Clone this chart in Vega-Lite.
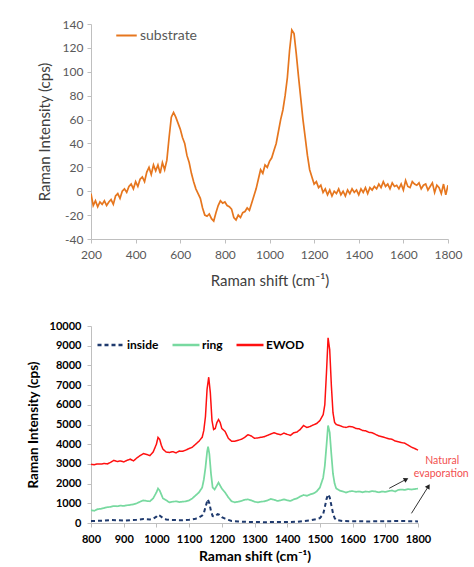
{
  "$schema": "https://vega.github.io/schema/vega-lite/v6.json",
  "padding": {"left": 26, "top": 18, "right": 0, "bottom": 0},
  "background": "white",
  "spacing": 32,
  "resolve": {"scale": {"x": "independent", "y": "independent", "color": "independent", "strokeDash": "independent"}, "axis": {"x": "independent", "y": "independent"}, "legend": {"color": "independent", "strokeDash": "independent"}},
  "config": {
    "font": "Lato",
    "view": {"stroke": null},
    "axis": {"grid": false, "domainColor": "#BFBFBF", "tickColor": "#BFBFBF", "tickSize": 4, "labelOverlap": false, "labelFlush": false}
  },
  "datasets": {
    "sub": [
      {"x":200,"y":-2},{"x":210,"y":-12},{"x":220,"y":-8},{"x":230,"y":-13},{"x":240,"y":-9},{"x":250,"y":-11},{"x":260,"y":-8},{"x":270,"y":-12},{"x":280,"y":-9},{"x":290,"y":-7},
      {"x":300,"y":-11},{"x":310,"y":-4},{"x":320,"y":-2},{"x":330,"y":-6},{"x":340,"y":0},{"x":350,"y":2},{"x":360,"y":-1},{"x":370,"y":4},{"x":380,"y":6},{"x":390,"y":2},
      {"x":400,"y":8},{"x":410,"y":4},{"x":420,"y":10},{"x":430,"y":12},{"x":440,"y":8},{"x":450,"y":16},{"x":460,"y":20},{"x":470,"y":14},{"x":480,"y":22},{"x":490,"y":17},
      {"x":500,"y":22},{"x":510,"y":15},{"x":520,"y":24},{"x":530,"y":18},{"x":540,"y":26},{"x":550,"y":45},{"x":560,"y":62},{"x":570,"y":66},{"x":580,"y":62},{"x":590,"y":57},
      {"x":600,"y":52},{"x":610,"y":45},{"x":620,"y":40},{"x":630,"y":30},{"x":640,"y":24},{"x":650,"y":15},{"x":660,"y":8},{"x":670,"y":2},{"x":680,"y":-2},{"x":690,"y":-6},
      {"x":700,"y":-14},{"x":710,"y":-20},{"x":720,"y":-21},{"x":730,"y":-19},{"x":740,"y":-23},{"x":750,"y":-25},{"x":760,"y":-18},{"x":770,"y":-12},{"x":780,"y":-8},{"x":790,"y":-10},
      {"x":800,"y":-9},{"x":810,"y":-12},{"x":820,"y":-13},{"x":830,"y":-15},{"x":840,"y":-22},{"x":850,"y":-24},{"x":860,"y":-20},{"x":870,"y":-22},{"x":880,"y":-18},{"x":890,"y":-17},
      {"x":900,"y":-14},{"x":910,"y":-16},{"x":920,"y":-10},{"x":930,"y":-4},{"x":940,"y":2},{"x":950,"y":10},{"x":960,"y":18},{"x":970,"y":15},{"x":980,"y":22},{"x":990,"y":20},
      {"x":1000,"y":25},{"x":1010,"y":28},{"x":1020,"y":34},{"x":1030,"y":40},{"x":1040,"y":50},{"x":1050,"y":60},{"x":1060,"y":68},{"x":1070,"y":80},{"x":1080,"y":95},{"x":1090,"y":118},
      {"x":1100,"y":135},{"x":1110,"y":132},{"x":1120,"y":115},{"x":1130,"y":96},{"x":1140,"y":78},{"x":1150,"y":60},{"x":1160,"y":45},{"x":1170,"y":30},{"x":1180,"y":18},{"x":1190,"y":12},
      {"x":1200,"y":6},{"x":1210,"y":8},{"x":1220,"y":3},{"x":1230,"y":5},{"x":1240,"y":-1},{"x":1250,"y":2},{"x":1260,"y":-3},{"x":1270,"y":1},{"x":1280,"y":-4},{"x":1290,"y":0},
      {"x":1300,"y":-2},{"x":1310,"y":2},{"x":1320,"y":-3},{"x":1330,"y":0},{"x":1340,"y":-4},{"x":1350,"y":1},{"x":1360,"y":-2},{"x":1370,"y":2},{"x":1380,"y":-1},{"x":1390,"y":1},
      {"x":1400,"y":-3},{"x":1410,"y":2},{"x":1420,"y":-1},{"x":1430,"y":3},{"x":1440,"y":-2},{"x":1450,"y":3},{"x":1460,"y":1},{"x":1470,"y":4},{"x":1480,"y":2},{"x":1490,"y":6},
      {"x":1500,"y":3},{"x":1510,"y":8},{"x":1520,"y":4},{"x":1530,"y":6},{"x":1540,"y":2},{"x":1550,"y":7},{"x":1560,"y":4},{"x":1570,"y":5},{"x":1580,"y":2},{"x":1590,"y":6},
      {"x":1600,"y":1},{"x":1610,"y":9},{"x":1620,"y":4},{"x":1630,"y":3},{"x":1640,"y":8},{"x":1650,"y":6},{"x":1660,"y":5},{"x":1670,"y":7},{"x":1680,"y":2},{"x":1690,"y":5},
      {"x":1700,"y":6},{"x":1710,"y":1},{"x":1720,"y":4},{"x":1730,"y":7},{"x":1740,"y":-1},{"x":1750,"y":5},{"x":1760,"y":3},{"x":1770,"y":-2},{"x":1780,"y":6},{"x":1790,"y":-3},{"x":1800,"y":5}
    ],
    "spectra": [
      {"s":"EWOD","x":800,"y":2980},{"s":"EWOD","x":810,"y":2960},{"s":"EWOD","x":820,"y":3000},{"s":"EWOD","x":830,"y":2990},{"s":"EWOD","x":840,"y":3020},{"s":"EWOD","x":850,"y":3000},{"s":"EWOD","x":860,"y":3080},{"s":"EWOD","x":870,"y":3180},{"s":"EWOD","x":880,"y":3120},{"s":"EWOD","x":890,"y":3150},
      {"s":"EWOD","x":900,"y":3100},{"s":"EWOD","x":910,"y":3180},{"s":"EWOD","x":920,"y":3240},{"s":"EWOD","x":930,"y":3150},{"s":"EWOD","x":940,"y":3300},{"s":"EWOD","x":950,"y":3420},{"s":"EWOD","x":960,"y":3520},{"s":"EWOD","x":970,"y":3480},{"s":"EWOD","x":980,"y":3420},{"s":"EWOD","x":990,"y":3600},
      {"s":"EWOD","x":1000,"y":4000},{"s":"EWOD","x":1005,"y":4350},{"s":"EWOD","x":1010,"y":4250},{"s":"EWOD","x":1015,"y":3950},{"s":"EWOD","x":1020,"y":3750},{"s":"EWOD","x":1030,"y":3600},{"s":"EWOD","x":1040,"y":3580},{"s":"EWOD","x":1050,"y":3620},{"s":"EWOD","x":1060,"y":3560},{"s":"EWOD","x":1070,"y":3650},
      {"s":"EWOD","x":1080,"y":3640},{"s":"EWOD","x":1090,"y":3700},{"s":"EWOD","x":1100,"y":3780},{"s":"EWOD","x":1110,"y":3850},{"s":"EWOD","x":1120,"y":4000},{"s":"EWOD","x":1130,"y":4150},{"s":"EWOD","x":1140,"y":4350},{"s":"EWOD","x":1145,"y":4700},{"s":"EWOD","x":1150,"y":5400},{"s":"EWOD","x":1155,"y":6800},
      {"s":"EWOD","x":1160,"y":7400},{"s":"EWOD","x":1165,"y":6600},{"s":"EWOD","x":1170,"y":5200},{"s":"EWOD","x":1175,"y":4750},{"s":"EWOD","x":1180,"y":4800},{"s":"EWOD","x":1185,"y":5100},{"s":"EWOD","x":1190,"y":5250},{"s":"EWOD","x":1195,"y":5100},{"s":"EWOD","x":1200,"y":4800},{"s":"EWOD","x":1210,"y":4650},
      {"s":"EWOD","x":1220,"y":4300},{"s":"EWOD","x":1230,"y":4150},{"s":"EWOD","x":1240,"y":4150},{"s":"EWOD","x":1250,"y":4200},{"s":"EWOD","x":1260,"y":4250},{"s":"EWOD","x":1270,"y":4350},{"s":"EWOD","x":1280,"y":4480},{"s":"EWOD","x":1290,"y":4420},{"s":"EWOD","x":1300,"y":4300},{"s":"EWOD","x":1310,"y":4320},
      {"s":"EWOD","x":1320,"y":4350},{"s":"EWOD","x":1330,"y":4380},{"s":"EWOD","x":1340,"y":4450},{"s":"EWOD","x":1350,"y":4520},{"s":"EWOD","x":1360,"y":4580},{"s":"EWOD","x":1370,"y":4520},{"s":"EWOD","x":1380,"y":4480},{"s":"EWOD","x":1390,"y":4560},{"s":"EWOD","x":1400,"y":4500},{"s":"EWOD","x":1410,"y":4450},
      {"s":"EWOD","x":1420,"y":4580},{"s":"EWOD","x":1430,"y":4620},{"s":"EWOD","x":1440,"y":4750},{"s":"EWOD","x":1450,"y":4950},{"s":"EWOD","x":1460,"y":4850},{"s":"EWOD","x":1470,"y":4900},{"s":"EWOD","x":1480,"y":4980},{"s":"EWOD","x":1490,"y":5050},{"s":"EWOD","x":1500,"y":5200},{"s":"EWOD","x":1510,"y":5500},
      {"s":"EWOD","x":1515,"y":6000},{"s":"EWOD","x":1520,"y":7600},{"s":"EWOD","x":1525,"y":9400},{"s":"EWOD","x":1530,"y":8800},{"s":"EWOD","x":1535,"y":7000},{"s":"EWOD","x":1540,"y":5600},{"s":"EWOD","x":1545,"y":5100},{"s":"EWOD","x":1550,"y":5000},{"s":"EWOD","x":1560,"y":4950},{"s":"EWOD","x":1570,"y":4880},
      {"s":"EWOD","x":1580,"y":4850},{"s":"EWOD","x":1590,"y":4900},{"s":"EWOD","x":1600,"y":4880},{"s":"EWOD","x":1610,"y":4800},{"s":"EWOD","x":1620,"y":4780},{"s":"EWOD","x":1630,"y":4700},{"s":"EWOD","x":1640,"y":4680},{"s":"EWOD","x":1650,"y":4600},{"s":"EWOD","x":1660,"y":4580},{"s":"EWOD","x":1670,"y":4500},
      {"s":"EWOD","x":1680,"y":4420},{"s":"EWOD","x":1690,"y":4380},{"s":"EWOD","x":1700,"y":4330},{"s":"EWOD","x":1710,"y":4280},{"s":"EWOD","x":1720,"y":4250},{"s":"EWOD","x":1730,"y":4160},{"s":"EWOD","x":1740,"y":4120},{"s":"EWOD","x":1750,"y":4080},{"s":"EWOD","x":1760,"y":4050},{"s":"EWOD","x":1770,"y":3950},
      {"s":"EWOD","x":1780,"y":3850},{"s":"EWOD","x":1790,"y":3780},{"s":"EWOD","x":1800,"y":3700},
      {"s":"ring","x":800,"y":650},{"s":"ring","x":810,"y":620},{"s":"ring","x":820,"y":700},{"s":"ring","x":830,"y":720},{"s":"ring","x":840,"y":760},{"s":"ring","x":850,"y":800},{"s":"ring","x":860,"y":820},{"s":"ring","x":870,"y":860},{"s":"ring","x":880,"y":850},{"s":"ring","x":890,"y":880},
      {"s":"ring","x":900,"y":870},{"s":"ring","x":910,"y":900},{"s":"ring","x":920,"y":920},{"s":"ring","x":930,"y":950},{"s":"ring","x":940,"y":1000},{"s":"ring","x":950,"y":1080},{"s":"ring","x":960,"y":1150},{"s":"ring","x":970,"y":1120},{"s":"ring","x":980,"y":1100},{"s":"ring","x":990,"y":1250},
      {"s":"ring","x":1000,"y":1550},{"s":"ring","x":1005,"y":1750},{"s":"ring","x":1010,"y":1650},{"s":"ring","x":1015,"y":1450},{"s":"ring","x":1020,"y":1250},{"s":"ring","x":1030,"y":1150},{"s":"ring","x":1040,"y":1050},{"s":"ring","x":1050,"y":1080},{"s":"ring","x":1060,"y":1100},{"s":"ring","x":1070,"y":1060},
      {"s":"ring","x":1080,"y":1080},{"s":"ring","x":1090,"y":1100},{"s":"ring","x":1100,"y":1150},{"s":"ring","x":1110,"y":1250},{"s":"ring","x":1120,"y":1400},{"s":"ring","x":1130,"y":1550},{"s":"ring","x":1140,"y":1800},{"s":"ring","x":1145,"y":2200},{"s":"ring","x":1150,"y":2800},{"s":"ring","x":1155,"y":3600},
      {"s":"ring","x":1158,"y":3880},{"s":"ring","x":1162,"y":3500},{"s":"ring","x":1167,"y":2500},{"s":"ring","x":1172,"y":1800},{"s":"ring","x":1178,"y":1700},{"s":"ring","x":1185,"y":1900},{"s":"ring","x":1190,"y":2050},{"s":"ring","x":1195,"y":1900},{"s":"ring","x":1200,"y":1750},{"s":"ring","x":1210,"y":1550},
      {"s":"ring","x":1220,"y":1300},{"s":"ring","x":1230,"y":1100},{"s":"ring","x":1240,"y":1050},{"s":"ring","x":1250,"y":1080},{"s":"ring","x":1260,"y":1120},{"s":"ring","x":1270,"y":1180},{"s":"ring","x":1280,"y":1200},{"s":"ring","x":1290,"y":1150},{"s":"ring","x":1300,"y":1080},{"s":"ring","x":1310,"y":1050},
      {"s":"ring","x":1320,"y":1080},{"s":"ring","x":1330,"y":1100},{"s":"ring","x":1340,"y":1150},{"s":"ring","x":1350,"y":1220},{"s":"ring","x":1360,"y":1180},{"s":"ring","x":1370,"y":1120},{"s":"ring","x":1380,"y":1150},{"s":"ring","x":1390,"y":1200},{"s":"ring","x":1400,"y":1150},{"s":"ring","x":1410,"y":1120},
      {"s":"ring","x":1420,"y":1200},{"s":"ring","x":1430,"y":1250},{"s":"ring","x":1440,"y":1350},{"s":"ring","x":1450,"y":1420},{"s":"ring","x":1460,"y":1380},{"s":"ring","x":1470,"y":1450},{"s":"ring","x":1480,"y":1500},{"s":"ring","x":1490,"y":1600},{"s":"ring","x":1500,"y":1800},{"s":"ring","x":1510,"y":2300},
      {"s":"ring","x":1515,"y":2900},{"s":"ring","x":1520,"y":3900},{"s":"ring","x":1525,"y":4950},{"s":"ring","x":1530,"y":4600},{"s":"ring","x":1535,"y":3500},{"s":"ring","x":1540,"y":2500},{"s":"ring","x":1545,"y":2000},{"s":"ring","x":1550,"y":1750},{"s":"ring","x":1560,"y":1650},{"s":"ring","x":1570,"y":1600},
      {"s":"ring","x":1580,"y":1550},{"s":"ring","x":1590,"y":1600},{"s":"ring","x":1600,"y":1620},{"s":"ring","x":1610,"y":1580},{"s":"ring","x":1620,"y":1600},{"s":"ring","x":1630,"y":1560},{"s":"ring","x":1640,"y":1600},{"s":"ring","x":1650,"y":1580},{"s":"ring","x":1660,"y":1620},{"s":"ring","x":1670,"y":1600},
      {"s":"ring","x":1680,"y":1560},{"s":"ring","x":1690,"y":1600},{"s":"ring","x":1700,"y":1580},{"s":"ring","x":1710,"y":1620},{"s":"ring","x":1720,"y":1650},{"s":"ring","x":1730,"y":1600},{"s":"ring","x":1740,"y":1680},{"s":"ring","x":1750,"y":1700},{"s":"ring","x":1760,"y":1680},{"s":"ring","x":1770,"y":1720},
      {"s":"ring","x":1780,"y":1700},{"s":"ring","x":1790,"y":1720},{"s":"ring","x":1800,"y":1750},
      {"s":"inside","x":800,"y":100},{"s":"inside","x":820,"y":110},{"s":"inside","x":840,"y":120},{"s":"inside","x":860,"y":150},{"s":"inside","x":880,"y":140},{"s":"inside","x":900,"y":120},{"s":"inside","x":920,"y":140},{"s":"inside","x":940,"y":160},{"s":"inside","x":960,"y":200},{"s":"inside","x":980,"y":180},
      {"s":"inside","x":990,"y":220},{"s":"inside","x":1000,"y":320},{"s":"inside","x":1005,"y":420},{"s":"inside","x":1010,"y":380},{"s":"inside","x":1020,"y":250},{"s":"inside","x":1030,"y":180},{"s":"inside","x":1040,"y":160},{"s":"inside","x":1060,"y":150},{"s":"inside","x":1080,"y":140},{"s":"inside","x":1100,"y":160},
      {"s":"inside","x":1110,"y":180},{"s":"inside","x":1120,"y":220},{"s":"inside","x":1130,"y":280},{"s":"inside","x":1140,"y":380},{"s":"inside","x":1145,"y":500},{"s":"inside","x":1150,"y":800},{"s":"inside","x":1157,"y":1200},{"s":"inside","x":1162,"y":1000},{"s":"inside","x":1167,"y":600},{"s":"inside","x":1172,"y":350},
      {"s":"inside","x":1180,"y":330},{"s":"inside","x":1187,"y":450},{"s":"inside","x":1192,"y":420},{"s":"inside","x":1200,"y":300},{"s":"inside","x":1210,"y":220},{"s":"inside","x":1220,"y":160},{"s":"inside","x":1230,"y":100},{"s":"inside","x":1250,"y":80},{"s":"inside","x":1270,"y":60},{"s":"inside","x":1300,"y":50},
      {"s":"inside","x":1330,"y":40},{"s":"inside","x":1360,"y":50},{"s":"inside","x":1400,"y":50},{"s":"inside","x":1430,"y":60},{"s":"inside","x":1450,"y":100},{"s":"inside","x":1470,"y":130},{"s":"inside","x":1490,"y":200},{"s":"inside","x":1500,"y":250},{"s":"inside","x":1510,"y":450},{"s":"inside","x":1515,"y":800},
      {"s":"inside","x":1520,"y":1200},{"s":"inside","x":1525,"y":1450},{"s":"inside","x":1530,"y":1300},{"s":"inside","x":1535,"y":900},{"s":"inside","x":1540,"y":500},{"s":"inside","x":1545,"y":250},{"s":"inside","x":1550,"y":150},{"s":"inside","x":1570,"y":100},{"s":"inside","x":1600,"y":90},{"s":"inside","x":1650,"y":80},
      {"s":"inside","x":1700,"y":90},{"s":"inside","x":1750,"y":100},{"s":"inside","x":1800,"y":80}
    ],
    "notes": [
      {"x":1874,"y":3130,"t":"Natural"},
      {"x":1871,"y":2470,"t":"evaporation"}
    ],
    "arrows": [
      {"x":1712,"y":1760,"x2":1764,"y2":2220,"angle":62},
      {"x":1780,"y":490,"x2":1832,"y2":1865,"angle":32}
    ]
  },
  "vconcat": [
    {
      "width": 357,
      "height": 215,
      "data": {"name": "sub"},
      "transform": [{"calculate": "'substrate'", "as": "series"}],
      "mark": {"type": "line", "strokeWidth": 1.7, "clip": true},
      "encoding": {
        "x": {"field": "x", "type": "quantitative", "scale": {"domain": [200, 1800], "nice": false, "zero": false},
          "axis": {"values": [200,400,600,800,1000,1200,1400,1600,1800], "labelExpr": "'' + datum.value", "title": "Raman shift (cm⁻¹)", "titleFontSize": 15, "titleFontWeight": "normal", "titleColor": "#404040", "labelFontSize": 12, "labelColor": "#595959", "labelPadding": 6, "titlePadding": 13}},
        "y": {"field": "y", "type": "quantitative", "scale": {"domain": [-40, 140], "nice": false},
          "axis": {"values": [-40,-20,0,20,40,60,80,100,120,140], "labelExpr": "'' + datum.value", "title": "Raman Intensity (cps)", "titleFontSize": 15, "titleFontWeight": "normal", "titleColor": "#404040", "labelFontSize": 12, "labelColor": "#595959", "labelPadding": 4, "titlePadding": 10}},
        "color": {"field": "series", "type": "nominal", "scale": {"range": ["#E6761E"]},
          "legend": {"title": null, "orient": "none", "legendX": 24, "legendY": 0, "symbolType": "stroke", "symbolSize": 420, "symbolStrokeWidth": 2, "labelFontSize": 14, "labelColor": "#595959", "labelOffset": 2}}
      }
    },
    {
      "width": 327,
      "height": 197,
      "encoding": {
        "x": {"field": "x", "type": "quantitative", "scale": {"domain": [800, 1800], "nice": false, "zero": false},
          "axis": {"values": [800,900,1000,1100,1200,1300,1400,1500,1600,1700,1800], "labelExpr": "'' + datum.value", "title": "Raman shift (cm⁻¹)", "titleFontSize": 14, "titleFontWeight": "bold", "titleColor": "#000000", "labelFontSize": 11, "labelFontWeight": "bold", "labelColor": "#000000", "labelPadding": 6, "titlePadding": 5}},
        "y": {"field": "y", "type": "quantitative", "scale": {"domain": [0, 10000], "nice": false},
          "axis": {"values": [0,1000,2000,3000,4000,5000,6000,7000,8000,9000,10000], "labelExpr": "'' + datum.value", "title": "Raman Intensity (cps)", "titleFontSize": 13.5, "titleFontWeight": "bold", "titleColor": "#000000", "labelFontSize": 11, "labelFontWeight": "bold", "labelColor": "#000000", "labelPadding": 6, "titlePadding": 9}}
      },
      "layer": [
        {
          "data": {"name": "spectra"},
          "mark": {"type": "line"},
          "encoding": {
            "color": {"field": "s", "type": "nominal",
              "scale": {"domain": ["inside", "ring", "EWOD"], "range": ["#1F3A6E", "#78D9A0", "#FF1010"]},
              "legend": {"title": null, "orient": "none", "direction": "horizontal", "legendX": 5, "legendY": 4, "symbolType": "stroke", "symbolSize": 729, "symbolStrokeWidth": 2.5, "labelFontSize": 12, "labelFontWeight": "bold", "labelColor": "#000000", "columnPadding": 8, "labelOffset": 1}},
            "strokeDash": {"field": "s", "type": "nominal",
              "scale": {"domain": ["inside", "ring", "EWOD"], "range": [[4, 3], [1, 0], [1, 0]]},
              "legend": {"title": null, "orient": "none", "direction": "horizontal", "legendX": 5, "legendY": 4, "symbolType": "stroke", "symbolSize": 729, "symbolStrokeWidth": 2.5, "labelFontSize": 12, "labelFontWeight": "bold", "labelColor": "#000000", "columnPadding": 8, "labelOffset": 1}},
            "strokeWidth": {"field": "s", "type": "nominal", "legend": null,
              "scale": {"domain": ["inside", "ring", "EWOD"], "range": [2, 1.5, 2.5]}}
          }
        },
        {
          "data": {"name": "arrows"},
          "mark": {"type": "rule", "color": "#333333", "strokeWidth": 1},
          "encoding": {
            "x2": {"field": "x2"},
            "y2": {"field": "y2"}
          }
        },
        {
          "data": {"name": "arrows"},
          "mark": {"type": "point", "shape": "triangle-up", "filled": true, "color": "#222222", "size": 30, "opacity": 1},
          "encoding": {
            "x": {"field": "x2", "type": "quantitative", "scale": {"domain": [800, 1800], "nice": false, "zero": false}},
            "y": {"field": "y2", "type": "quantitative", "scale": {"domain": [0, 10000], "nice": false}},
            "angle": {"field": "angle", "type": "quantitative", "scale": null}
          }
        },
        {
          "data": {"name": "notes"},
          "mark": {"type": "text", "color": "#F25050", "fontSize": 10.5, "align": "center", "baseline": "middle"},
          "encoding": {
            "text": {"field": "t"}
          }
        }
      ]
    }
  ]
}
